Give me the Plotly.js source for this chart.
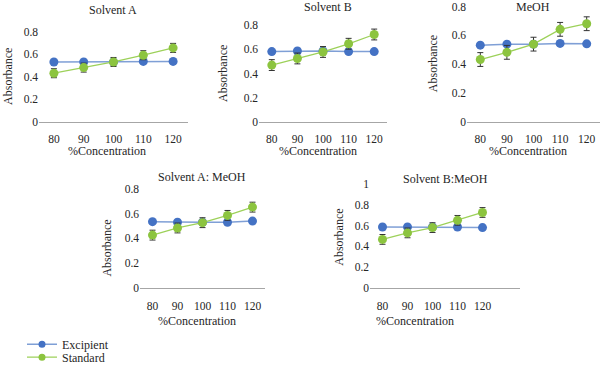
<!DOCTYPE html>
<html>
<head>
<meta charset="utf-8">
<script src="https://cdn.plot.ly/plotly-3.0.1.min.js"></script>
<style>html,body{margin:0;padding:0;background:#fff;}#chart{width:600px;height:372px;}</style>
</head>
<body>
<div id="chart"></div>
<script>
const concentration = [80, 90, 100, 110, 120];
const panelTitles = ["Solvent A", "Solvent B", "MeOH", "Solvent A: MeOH", "Solvent B:MeOH"];
const seriesNames = ["Excipient", "Standard"];

const solventA_excipient = [0.53, 0.53, 0.53, 0.535, 0.535];
const solventA_standard  = [0.43, 0.48, 0.53, 0.59, 0.655];
const solventA_error     = [0.04, 0.04, 0.04, 0.04, 0.04];

const solventB_excipient = [0.582, 0.587, 0.587, 0.582, 0.582];
const solventB_standard  = [0.47, 0.525, 0.579, 0.647, 0.724];
const solventB_error     = [0.045, 0.045, 0.045, 0.045, 0.045];

const meoh_excipient = [0.532, 0.539, 0.539, 0.544, 0.541];
const meoh_standard  = [0.432, 0.482, 0.539, 0.642, 0.681];
const meoh_error     = [0.048, 0.048, 0.048, 0.048, 0.048];

const solventAMeoh_excipient = [0.536, 0.531, 0.531, 0.531, 0.541];
const solventAMeoh_standard  = [0.427, 0.485, 0.528, 0.587, 0.654];
const solventAMeoh_error     = [0.04, 0.04, 0.04, 0.04, 0.04];

const solventBMeoh_excipient = [0.587, 0.587, 0.587, 0.587, 0.581];
const solventBMeoh_standard  = [0.467, 0.53, 0.581, 0.651, 0.727];
const solventBMeoh_error     = [0.047, 0.047, 0.047, 0.047, 0.047];

const yTicks = [0, 0.2, 0.4, 0.6, 0.8];
const yTicks5 = [0, 0.2, 0.4, 0.6, 0.8, 1];
const yTickText = ["0", "0.2", "0.4", "0.6", "0.8"];
const yTickText5 = ["0", "0.2", "0.4", "0.6", "0.8", "1"];
const xAxisTitle = "%Concentration";
const yAxisTitle = "Absorbance";

const W = 600, H = 372;
const px = v => v / W;
const py = v => 1 - v / H;

const panels = [
  {exc: solventA_excipient, std: solventA_standard, err: solventA_error,
   x0: 39, x1: 188, yb: 123.3, yt: 32, yMax: 0.8, xMax: 125, ticks: yTicks, tickText: yTickText,
   titlePos: [113, 10], xTitlePos: [107, 153], yTitlePos: [8, 78]},
  {exc: solventB_excipient, std: solventB_standard, err: solventB_error,
   x0: 259, x1: 387, yb: 123.3, yt: 25.7, yMax: 0.8, xMax: 125, ticks: yTicks, tickText: yTickText,
   titlePos: [328, 7], xTitlePos: [318, 153], yTitlePos: [223, 75]},
  {exc: meoh_excipient, std: meoh_standard, err: meoh_error,
   x0: 467, x1: 601, yb: 123.3, yt: 6.7, yMax: 0.8, xMax: 125, ticks: yTicks, tickText: yTickText,
   titlePos: [533, 7], xTitlePos: [528, 153], yTitlePos: [433, 65]},
  {exc: solventAMeoh_excipient, std: solventAMeoh_standard, err: solventAMeoh_error,
   x0: 140, x1: 265, yb: 291.7, yt: 191.7, yMax: 0.8, xMax: 125, ticks: yTicks, tickText: yTickText,
   titlePos: [202, 179], xTitlePos: [197, 325], yTitlePos: [107, 252]},
  {exc: solventBMeoh_excipient, std: solventBMeoh_standard, err: solventBMeoh_error,
   x0: 370, x1: 520, yb: 291.7, yt: 186.7, yMax: 1, xMax: 135, ticks: yTicks5, tickText: yTickText5,
   titlePos: [445, 181], xTitlePos: [415, 325], yTitlePos: [339, 240]}
];

const FONT = "'Liberation Serif', 'Times New Roman', Times, serif";
const TXT = "#262626";
const EXC_LINE = "#7f9fd6", EXC_MARK = "#4472c4";
const STD_LINE = "#9dd15a", STD_MARK = "#8cc43f";
const data = [];
const legendBase = {x: px(22), xanchor: "left", yanchor: "middle",
  font: {family: FONT, size: 12, color: TXT}, itemwidth: 30,
  bgcolor: "rgba(0,0,0,0)", borderwidth: 0};
const layout = {
  width: W, height: H,
  margin: {l: 0, r: 0, t: 0, b: 0},
  paper_bgcolor: "#ffffff", plot_bgcolor: "rgba(0,0,0,0)",
  font: {family: FONT, size: 11, color: TXT},
  showlegend: true,
  legend: Object.assign({}, legendBase, {y: py(349)}),
  legend2: Object.assign({}, legendBase, {y: py(362)}),
  annotations: []
};

panels.forEach((p, i) => {
  const n = i === 0 ? "" : String(i + 1);
  const xa = "x" + n, ya = "y" + n;
  data.push({
    x: concentration, y: p.exc, xaxis: xa, yaxis: ya, type: "scatter", mode: "lines+markers",
    name: seriesNames[0], showlegend: false,
    line: {color: EXC_LINE, width: 1.5},
    marker: {color: EXC_MARK, size: 9}
  });
  data.push({
    x: concentration, y: p.std, xaxis: xa, yaxis: ya, type: "scatter", mode: "lines+markers",
    name: seriesNames[1], showlegend: false,
    line: {color: STD_LINE, width: 1.3},
    marker: {color: STD_MARK, size: 9},
    error_y: {type: "data", array: p.err, visible: true, color: "#333", thickness: 1, width: 3}
  });
  layout["xaxis" + n] = {
    domain: [px(p.x0), Math.min(1, px(p.x1))], anchor: ya, range: [75, p.xMax],
    tickvals: concentration, ticktext: concentration.map(String),
    showline: true, linecolor: "#a6a6a6", linewidth: 1, showgrid: false, zeroline: false,
    ticks: "", tickfont: {family: FONT, size: 11.5, color: TXT}, ticklabelstandoff: 7, fixedrange: true
  };
  layout["yaxis" + n] = {
    domain: [py(p.yb), py(p.yt)], anchor: xa, range: [0, p.yMax],
    tickvals: p.ticks, ticktext: p.tickText,
    showline: false, showgrid: false, zeroline: false, ticks: "",
    tickfont: {family: FONT, size: 11.5, color: TXT}, fixedrange: true
  };
  layout.annotations.push({text: panelTitles[i], x: px(p.titlePos[0]), y: py(p.titlePos[1]),
    xref: "paper", yref: "paper", showarrow: false, xanchor: "center", yanchor: "middle",
    font: {family: FONT, size: 12, color: TXT}});
  layout.annotations.push({text: xAxisTitle, x: px(p.xTitlePos[0]), y: py(p.xTitlePos[1]),
    xref: "paper", yref: "paper", showarrow: false, xanchor: "center", yanchor: "middle",
    font: {family: FONT, size: 12, color: TXT}});
  layout.annotations.push({text: yAxisTitle, x: px(p.yTitlePos[0]), y: py(p.yTitlePos[1]),
    xref: "paper", yref: "paper", showarrow: false, xanchor: "center", yanchor: "middle", textangle: -90,
    font: {family: FONT, size: 12, color: TXT}});
});

// legend-only entries (no data), drawn with the smaller legend symbols of the reference
data.push({x: [null], y: [null], type: "scatter", mode: "lines+markers", name: seriesNames[0],
  legend: "legend", showlegend: true, hoverinfo: "skip",
  line: {color: EXC_LINE, width: 1.5}, marker: {color: EXC_MARK, size: 7}});
data.push({x: [null], y: [null], type: "scatter", mode: "lines+markers", name: seriesNames[1],
  legend: "legend2", showlegend: true, hoverinfo: "skip",
  line: {color: STD_LINE, width: 1.3}, marker: {color: STD_MARK, size: 7}});

Plotly.newPlot("chart", data, layout, {displayModeBar: false, staticPlot: true});
</script>
</body>
</html>
